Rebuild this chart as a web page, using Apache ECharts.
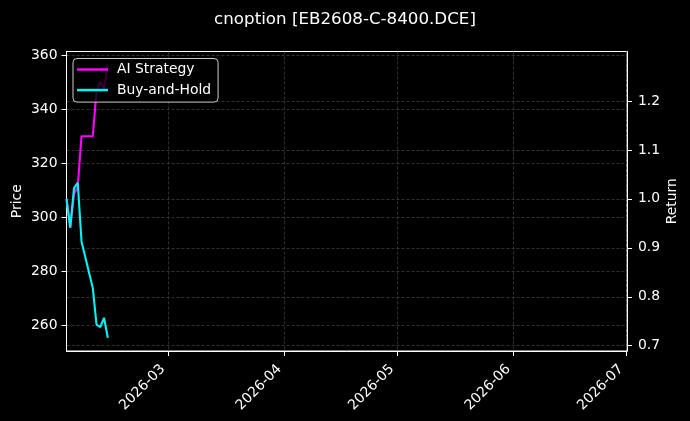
<!DOCTYPE html>
<html>
<head>
<meta charset="utf-8">
<script src="https://cdn.jsdelivr.net/npm/echarts@6/dist/echarts.min.js"></script>
<style>
html,body{margin:0;padding:0;background:#000;}
#chart{width:690px;height:421px;}
</style>
</head>
<body>
<div id="chart"></div>
<script>
const titleText = 'cnoption [EB2608-C-8400.DCE]';
const dates = ['2026-02-02','2026-02-03','2026-02-04','2026-02-05','2026-02-06','2026-02-09','2026-02-10','2026-02-11','2026-02-12','2026-02-13'];
const aiStrategy = [1.0, 0.941, 1.01, 1.025, 1.128, 1.128, 1.22, 1.24, 1.225, 1.274];
const buyAndHold = [1.0, 0.941, 1.022, 1.033, 0.913, 0.818, 0.743, 0.738, 0.757, 0.716];
const monthTicks = ['2026-03-01','2026-04-01','2026-05-01','2026-06-01','2026-07-01'];
const priceTicks = [260, 280, 300, 320, 340, 360];
const returnTicks = [0.7, 0.8, 0.9, 1.0, 1.1, 1.2];

const ts = s => new Date(s + 'T00:00:00Z').getTime();
const FONT = 'DejaVu Sans';
const FS = 13.9;
const gridLine = {show: true, lineStyle: {color: '#3e3e3e', type: [3, 2], width: 0.8}};
const monthTs = monthTicks.map(ts);

const chart = echarts.init(document.getElementById('chart'));
chart.setOption({
  backgroundColor: '#000',
  animation: false,
  textStyle: {fontFamily: FONT},
  title: {
    text: titleText, left: 'center', top: 6,
    textStyle: {color: '#fff', fontSize: 16.7, fontWeight: 'normal', fontFamily: FONT}
  },
  legend: {
    left: 73, top: 58.5, orient: 'vertical',
    data: ['AI Strategy', 'Buy-and-Hold'],
    icon: 'rect', itemWidth: 31, itemHeight: 2.5, itemGap: 6.6,
    padding: [4, 7, 5, 4],
    backgroundColor: 'rgba(0,0,0,0.8)', borderColor: '#cccccc', borderWidth: 1, borderRadius: 4,
    textStyle: {color: '#fff', fontSize: FS, fontFamily: FONT, lineHeight: 14, padding: [0, 0, 0, 4]}
  },
  grid: {left: 66.5, right: 63, top: 51.5, bottom: 70, show: true, borderColor: '#fff', borderWidth: 1, backgroundColor: 'transparent'},
  xAxis: {
    type: 'value', min: ts('2026-02-02'), max: ts('2026-07-01') + 6 * 3600e3,
    axisLine: {show: true, lineStyle: {color: '#fff', width: 1}},
    axisTick: {show: true, length: 5, lineStyle: {color: '#fff'}, customValues: monthTs},
    axisLabel: {
      color: '#fff', fontSize: FS, fontFamily: FONT, rotate: 45, margin: 11,
      padding: [0, 7, 0, 0],
      customValues: monthTs,
      formatter: v => { const d = new Date(v); return d.getUTCFullYear() + '-' + String(d.getUTCMonth() + 1).padStart(2, '0'); }
    },
    splitLine: gridLine
  },
  yAxis: [{
    type: 'value', name: 'Price', nameLocation: 'middle', nameGap: 42.5, nameRotate: 90, nameMoveOverlap: false,
    nameTextStyle: {color: '#fff', fontSize: FS, fontFamily: FONT},
    min: 250.65, max: 361.3, position: 'left',
    axisLine: {show: true, lineStyle: {color: '#fff', width: 1}},
    axisTick: {show: true, length: 5, lineStyle: {color: '#fff'}, customValues: priceTicks},
    axisLabel: {color: '#fff', fontSize: FS, fontFamily: FONT, margin: 9, customValues: priceTicks},
    splitLine: gridLine
  }, {
    type: 'value', name: 'Return', nameLocation: 'middle', nameGap: 38, nameRotate: 90, nameMoveOverlap: false,
    nameTextStyle: {color: '#fff', fontSize: FS, fontFamily: FONT},
    min: 0.6892, max: 1.301, position: 'right',
    axisLine: {show: true, lineStyle: {color: '#fff', width: 1}},
    axisTick: {show: true, length: 5, lineStyle: {color: '#fff'}, customValues: returnTicks},
    axisLabel: {color: '#fff', fontSize: FS, fontFamily: FONT, margin: 11, customValues: returnTicks, formatter: v => v.toFixed(1)},
    splitLine: gridLine
  }],
  series: [{
    name: 'AI Strategy', type: 'line', yAxisIndex: 1, showSymbol: false,
    data: dates.map((d, i) => [ts(d), aiStrategy[i]]),
    lineStyle: {color: '#ff00ff', width: 2.1}, itemStyle: {color: '#ff00ff'}, z: 2
  }, {
    name: 'Buy-and-Hold', type: 'line', yAxisIndex: 1, showSymbol: false,
    data: dates.map((d, i) => [ts(d), buyAndHold[i]]),
    lineStyle: {color: '#00f5f5', width: 2.1}, itemStyle: {color: '#00f5f5'}, z: 3
  }]
});
</script>
</body>
</html>
